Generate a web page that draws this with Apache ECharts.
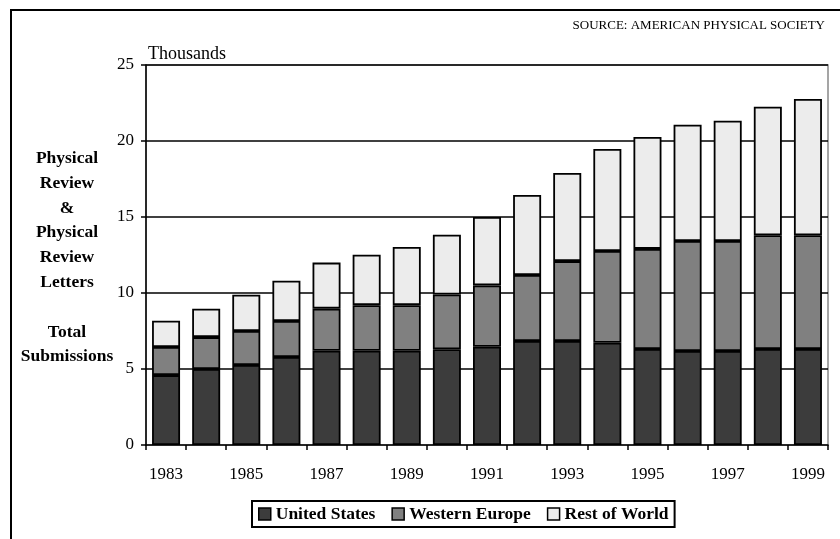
<!DOCTYPE html>
<html><head><meta charset="utf-8">
<script src="https://cdn.jsdelivr.net/npm/echarts@6/dist/echarts.min.js"></script>
<style>html,body{margin:0;padding:0;background:#fff}#c{width:840px;height:539px}</style>
</head><body><div id="c"></div>
<script>
const years = ['1983','1984','1985','1986','1987','1988','1989','1990','1991','1992','1993','1994','1995','1996','1997','1998','1999'];
const unitedStates = [4.6,5.0,5.26,5.79,6.2,6.2,6.2,6.3,6.46,6.84,6.84,6.73,6.32,6.18,6.18,6.32,6.32];
const westernEurope = [1.85,2.1,2.24,2.37,2.77,3.0,3.0,3.6,4.04,4.34,5.26,6.03,6.58,7.24,7.24,7.48,7.48];
const restOfWorld = [1.73,1.87,2.39,2.65,3.03,3.32,3.83,3.94,4.5,5.27,5.8,6.71,7.36,7.65,7.92,8.46,8.96];
const yTicks = [0,5,10,15,20,25];

const FONT = '"Liberation Serif","Times New Roman",serif';
const chart = echarts.init(document.getElementById('c'), null, {renderer:'canvas'});
function bar(name, data, color){
  return {name, type:'bar', stack:'total', data, barWidth:28,
    itemStyle:{color, borderColor:'#000', borderWidth:1.8}, emphasis:{disabled:true}, animation:false};
}
chart.setOption({
  animation:false,
  textStyle:{fontFamily:FONT, color:'#000'},
  grid:{left:146, right:12, top:65, bottom:94, show:true, borderColor:'#888', borderWidth:1.5, backgroundColor:'transparent'},
  xAxis:{type:'category', data:years,
    axisLine:{lineStyle:{color:'#000', width:1.5}},
    axisTick:{show:true, alignWithLabel:false, interval:0, length:5, lineStyle:{color:'#000', width:1.5}},
    axisLabel:{interval:1, margin:21, fontSize:17, fontFamily:FONT, color:'#000'}},
  yAxis:{type:'value', min:yTicks[0], max:yTicks[yTicks.length-1], interval:5,
    axisLine:{show:true, lineStyle:{color:'#000', width:1.5}},
    axisTick:{show:true, length:5, lineStyle:{color:'#000', width:1.5}},
    axisLabel:{margin:12, fontSize:17, fontFamily:FONT, color:'#000'},
    splitLine:{show:true, showMinLine:false, lineStyle:{color:['#000','#000','#000','#000','#000','#888'], width:1.5}}},
  legend:{left:252, top:501, itemWidth:12, itemHeight:12, itemGap:16, padding:[4,6,4,6],
    borderColor:'#000', borderWidth:2, icon:'rect',
    textStyle:{fontFamily:FONT, fontWeight:'bold', fontSize:17.5, color:'#000'},
    itemStyle:{borderColor:'#000', borderWidth:1.5},
    data:['United States','Western Europe','Rest of World']},
  graphic:[
    {type:'rect', shape:{x:11, y:10, width:900, height:700}, style:{fill:'none', stroke:'#000', lineWidth:2}, silent:true},
    {type:'text', right:15, top:19, style:{text:'SOURCE: AMERICAN PHYSICAL SOCIETY', font:'13px '+FONT, fill:'#000'}},
    {type:'text', left:148, top:45, style:{text:'Thousands', font:'18px '+FONT, fill:'#000'}},
    {type:'text', x:67, y:146, style:{text:'Physical\nReview\n&\nPhysical\nReview\nLetters\n\nTotal\nSubmissions', font:'bold 17.5px '+FONT, fill:'#000', align:'center', verticalAlign:'top', lineHeight:24.8}}
  ],
  series:[
    bar('United States', unitedStates, '#3c3c3c'),
    bar('Western Europe', westernEurope, '#808080'),
    bar('Rest of World', restOfWorld, '#ececec')
  ]
});
</script></body></html>
